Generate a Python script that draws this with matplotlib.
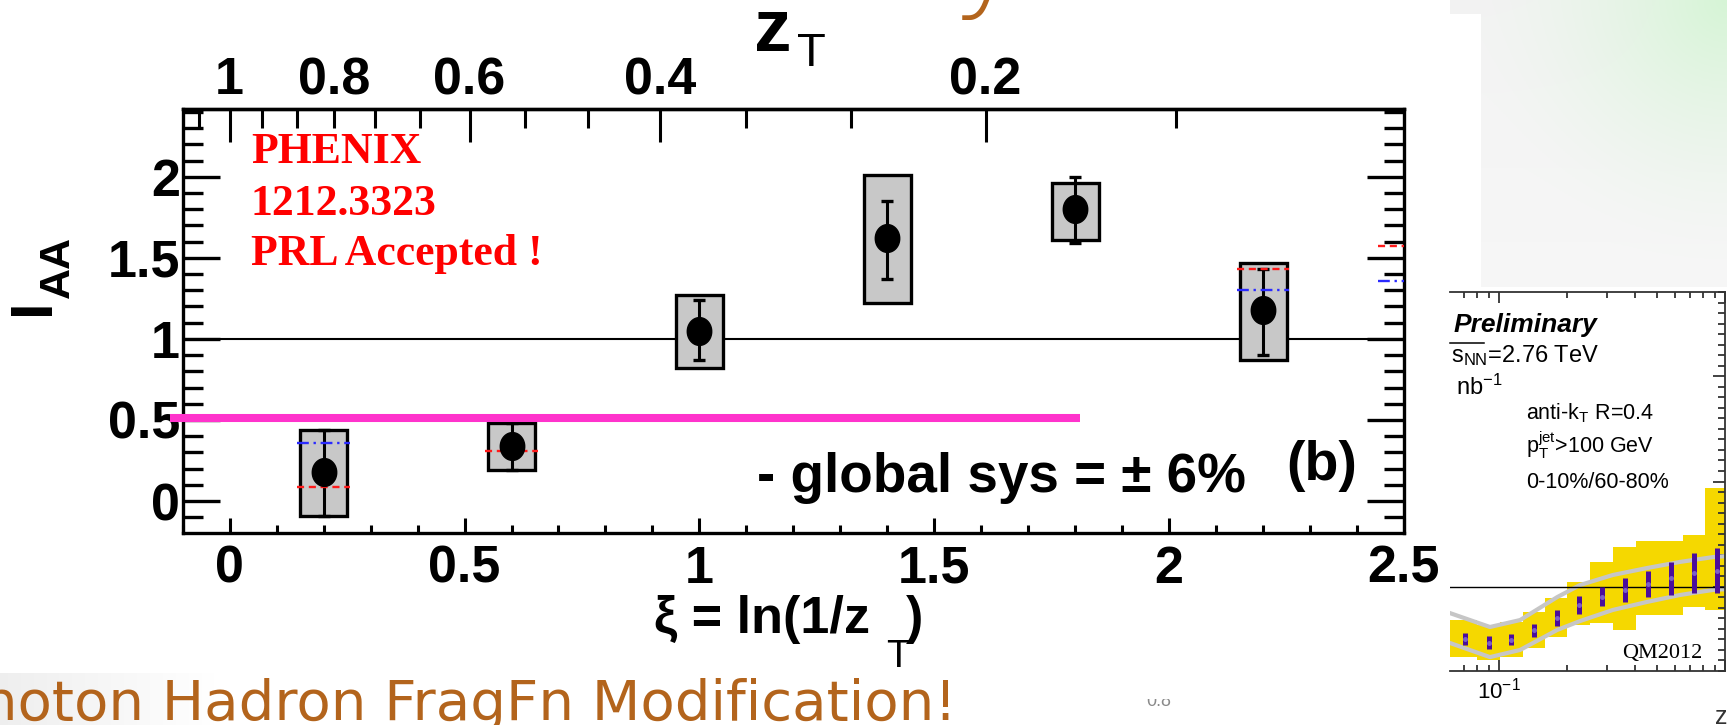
import numpy as np
import matplotlib
matplotlib.use("Agg")
import matplotlib.pyplot as plt
from matplotlib.ticker import MultipleLocator, FixedLocator, FuncFormatter, NullFormatter
from matplotlib.patches import Rectangle
from matplotlib.lines import Line2D
from matplotlib.transforms import Bbox, TransformedBbox

# ---------------- PHENIX gamma-hadron I_AA versus xi ----------------
xi = [0.2, 0.6, 1.0, 1.4, 1.8, 2.2]
iaa = [0.18, 0.34, 1.05, 1.62, 1.80, 1.18]
stat_lo = [0.27, 0.15, 0.18, 0.25, 0.21, 0.28]
stat_hi = [0.26, 0.14, 0.19, 0.23, 0.20, 0.25]
sys_lo = [0.27, 0.15, 0.23, 0.40, 0.19, 0.31]
sys_hi = [0.26, 0.14, 0.22, 0.39, 0.16, 0.29]

# model fragments visible around some bins
model_red_x = [0.2, 0.6, 2.2, 2.5]
model_red_y = [0.085, 0.31, 1.43, 1.57]
model_blue_x = [0.2, 2.2, 2.5]
model_blue_y = [0.36, 1.30, 1.36]

# hand-drawn reference level
ref_level = 0.514
ref_span = [-0.128, 1.811]

# top axis: z_T = exp(-xi)
zt_major = [1.0, 0.6, 0.4, 0.2]
zt_labeled_minor = 0.8
zt_minor = [k / 15 for k in range(1, 17) if k % 3]

# ---------------- ATLAS preliminary R_D(z) panel ----------------
atlas_edges = [0.061, 0.080, 0.101, 0.128, 0.160, 0.200, 0.253, 0.319, 0.404, 0.515, 0.652, 0.816, 1.02]
band_hi = [0.842, 0.818, 0.833, 0.880, 0.947, 1.023, 1.118, 1.189, 1.217, 1.217, 1.246, 1.469]
band_lo = [0.666, 0.652, 0.666, 0.709, 0.761, 0.818, 0.828, 0.795, 0.866, 0.866, 0.904, 0.890]
bar_z = [0.071, 0.090, 0.113, 0.143, 0.180, 0.226, 0.286, 0.362, 0.458, 0.578, 0.731, 0.923]
bar_lo = [0.723, 0.704, 0.723, 0.763, 0.815, 0.869, 0.909, 0.929, 0.950, 0.961, 0.969, 0.969]
bar_hi = [0.782, 0.766, 0.774, 0.823, 0.890, 0.956, 0.997, 1.040, 1.075, 1.119, 1.159, 1.185]
curve_z = [0.0607, 0.0912, 0.124, 0.181, 0.228, 0.319, 0.452, 0.632, 0.885, 1.02]
curve_hi = [0.875, 0.809, 0.842, 0.951, 1.008, 1.056, 1.089, 1.118, 1.141, 1.146]
curve_lo = [0.733, 0.666, 0.700, 0.795, 0.837, 0.890, 0.928, 0.961, 0.985, 0.989]

W, H, DPI = 1727, 725, 100
BROWN = "#b3641c"

plt.rcParams["font.family"] = ["Liberation Sans", "DejaVu Sans"]
plt.rcParams["font.weight"] = "bold"
plt.rcParams["mathtext.default"] = "regular"

fig = plt.figure(figsize=(W / DPI, H / DPI), dpi=DPI, facecolor="white")


def fx(px):
    return px / W


def fy(py):
    return 1 - py / H


def pt(px):
    return px * 72.0 / DPI


# ---------------- slide decorations ----------------
# light backdrop behind the bottom caption
bg_cap = fig.add_axes([0, fy(725), fx(215), (725 - 673) / H], zorder=-5)
grad = np.linspace(0.935, 1.0, 200)
bg_cap.imshow(np.dstack([np.tile(grad, (10, 1))] * 3), aspect="auto", extent=(0, 1, 0, 1))
bg_cap.set_axis_off()

# pale green-grey panel, top right
bg_tr = fig.add_axes([fx(1450), fy(287), fx(277), 287 / H], zorder=-5)
u, v = np.meshgrid(np.linspace(0, 1, 120), np.linspace(0, 1, 120))
d = np.sqrt((1 - u) ** 2 + v ** 2)
g = np.clip(1 - d / 0.95, 0, 1) ** 1.6
base = 0.952 + 0.015 * v
img = np.dstack([base * (1 - g) + 0.84 * g, base * (1 - g) + 0.96 * g, base * (1 - g) + 0.84 * g])
bg_tr.imshow(img, aspect="auto", extent=(0, 1, 0, 1))
bg_tr.set_axis_off()
fig.patches.append(Rectangle((fx(1450), fy(287)), fx(31), (287 - 14) / H,
                             transform=fig.transFigure, fc="white", ec="none", zorder=-4))

# ---------------- main PHENIX axes ----------------
L, R, T, B = 182.7, 1404, 109.3, 533
ax = fig.add_axes([fx(L), fy(B), (R - L) / W, (B - T) / H])
ax.set_xlim(-0.1, 2.5)
ax.set_ylim(-0.197, 2.416)

for s in ax.spines.values():
    s.set_linewidth(2.4)

ax.xaxis.set_major_locator(MultipleLocator(0.5))
ax.xaxis.set_minor_locator(MultipleLocator(0.1))
ax.yaxis.set_major_locator(MultipleLocator(0.5))
ax.yaxis.set_minor_locator(MultipleLocator(0.1))
fmt = FuncFormatter(lambda v, p: "%g" % round(v, 3))
ax.xaxis.set_major_formatter(fmt)
ax.yaxis.set_major_formatter(fmt)

ax.tick_params(axis="x", which="major", direction="in", length=pt(15), width=2.2,
               top=False, bottom=True, labelsize=37.5, pad=8.6)
ax.tick_params(axis="x", which="minor", direction="in", length=pt(8), width=2.2,
               top=False, bottom=True)
ax.tick_params(axis="y", which="major", direction="in", length=pt(37), width=2.4,
               left=True, right=True, labelsize=37.5, pad=2)
ax.tick_params(axis="y", which="minor", direction="in", length=pt(20), width=2.4,
               left=True, right=True)

ax.axhline(1.0, color="black", lw=1.5, zorder=1)

# systematic boxes
for x, y, lo, hi in zip(xi, iaa, sys_lo, sys_hi):
    ax.add_patch(Rectangle((x - 0.05, y - lo), 0.1, lo + hi, fc="#c8c8c8",
                           ec="black", lw=2.4, zorder=2))

# model fragments
for x, y in zip(model_red_x, model_red_y):
    ax.plot([x - 0.056, x + 0.056], [y, y], color="#ff1a1a", lw=1.7,
            ls=(0, (3, 2)), zorder=3.5)
for x, y in zip(model_blue_x, model_blue_y):
    ax.plot([x - 0.056, x + 0.056], [y, y], color="#2a2aff", lw=1.7,
            ls=(0, (5, 2, 1, 2)), zorder=3.5)

# statistical errors and points
ax.errorbar(xi, iaa, yerr=[stat_lo, stat_hi], fmt="none", ecolor="black",
            elinewidth=2.2, capsize=4.3, capthick=2.4, zorder=3)
t = np.linspace(0, 2 * np.pi, 64)
ellipse = list(zip(0.44 * np.cos(t), 0.5 * np.sin(t)))
ax.plot(xi, iaa, ls="none", marker=ellipse, ms=20, color="black", zorder=4)

# reference level
ax.plot(ref_span, [ref_level, ref_level], color="#ff33cc", lw=5.8,
        solid_capstyle="butt", clip_on=False, zorder=6)

# top z_T axis
sec = ax.secondary_xaxis("top", functions=(lambda x: np.exp(-np.asarray(x)),
                                            lambda z: -np.log(np.clip(np.asarray(z), 1e-9, None))))
sec.xaxis.set_major_locator(FixedLocator(zt_major))
sec.xaxis.set_minor_locator(FixedLocator([zt_labeled_minor] + zt_minor))
sec.xaxis.set_major_formatter(FuncFormatter(lambda v, p: "%g" % round(v, 3)))
sec.xaxis.set_minor_formatter(FuncFormatter(
    lambda v, p: "%g" % zt_labeled_minor if abs(v - zt_labeled_minor) < 1e-6 else ""))
sec.tick_params(axis="x", which="major", direction="in", length=pt(33), width=2.2,
                labelsize=37.5, pad=3)
sec.tick_params(axis="x", which="minor", direction="in", length=pt(19), width=2.2,
                labelsize=37.5, pad=3)
for s in sec.spines.values():
    s.set_linewidth(2.4)

# axis titles
fig.text(fx(773), fy(51), "z", ha="center", va="baseline", fontsize=54, weight="bold")
fig.text(fx(811), fy(54), "T", ha="center", va="center", fontsize=34, weight="normal")

fig.text(fx(870), fy(633), "\u03be = ln(1/z", ha="right", va="baseline", fontsize=37.5)
fig.text(fx(886), fy(667), "T", ha="left", va="baseline", fontsize=28, weight="normal")
fig.text(fx(906), fy(619), ")", ha="left", va="center", fontsize=37.5)

fig.text(fx(33.5), fy(307), "I", ha="center", va="center", rotation=90, fontsize=43)
fig.text(fx(57.5), fy(266.5), "AA", ha="center", va="center", rotation=90, fontsize=31)

# annotations inside the frame
for txt, base in zip(["PHENIX", "1212.3323", "PRL Accepted !"], [163.3, 215, 265]):
    fig.text(fx(251), fy(base), txt, ha="left", va="baseline", color="red",
             fontsize=31.5, family=["Liberation Serif", "DejaVu Serif"], weight="bold")

fig.text(fx(757), fy(492), "- global sys = \u00b1 6%", ha="left", va="baseline",
         fontsize=39.5, zorder=7)
fig.text(fx(1286), fy(466), "(b)", ha="left", va="center", fontsize=40)

# ---------------- ATLAS preliminary panel (right) ----------------
ax2 = fig.add_axes([fx(1450), fy(671), fx(1725 - 1450), (671 - 292) / H])
ax2.set_xscale("log")
ax2.set_xlim(0.0607, 1.0)
ax2.set_ylim(0.6, 2.4)
ax2.set_facecolor("none")
ax2.spines["left"].set_visible(False)
for k in ("top", "bottom", "right"):
    ax2.spines[k].set_color("#333333")
    ax2.spines[k].set_linewidth(1.3)

ax2.stairs(band_hi, atlas_edges, baseline=band_lo, fill=True, color="#f5d800",
           lw=0, zorder=1)
ax2.plot(curve_z, curve_hi, color="#c6c6c6", lw=3, zorder=2)
ax2.plot(curve_z, curve_lo, color="#c6c6c6", lw=3, zorder=2)
ax2.axhline(1.0, color="black", lw=1.0, zorder=2.5)
ax2.vlines(bar_z, bar_lo, bar_hi, color="#4a0d9c", lw=3.6, zorder=3)
ax2.plot(bar_z, [(a + b) / 2 for a, b in zip(bar_lo, bar_hi)], ls="none",
         marker="o", ms=2.5, color="#7d60c8", zorder=4)

ax2.xaxis.set_major_locator(FixedLocator([0.1, 1.0]))
ax2.xaxis.set_major_formatter(FuncFormatter(
    lambda v, p: r"10$^{\mathregular{-1}}$" if abs(v - 0.1) < 1e-9 else ""))
ax2.xaxis.set_minor_formatter(NullFormatter())
ax2.tick_params(axis="x", which="major", direction="in", length=pt(11), width=1.3,
                top=True, bottom=True, color="#333333", labelsize=16, pad=5)
ax2.tick_params(axis="x", which="minor", direction="in", length=pt(6), width=1.3,
                top=True, bottom=True, color="#333333")
for lbl in ax2.get_xticklabels():
    lbl.set_fontweight("normal")
ax2.yaxis.set_major_locator(MultipleLocator(0.5))
ax2.yaxis.set_minor_locator(MultipleLocator(0.05))
ax2.tick_params(axis="y", which="major", direction="in", length=pt(12), width=1.3,
                left=False, right=True, labelleft=False, labelright=False, color="#333333")
ax2.tick_params(axis="y", which="minor", direction="in", length=pt(7), width=1.3,
                left=False, right=True, color="#333333")

fig.text(fx(1454), fy(325), "Preliminary", ha="left", va="center", fontsize=19,
         weight="bold", style="italic")
fig.text(fx(1451), fy(362), r"$\mathregular{s_{NN}}$=2.76 TeV", ha="left",
         va="baseline", fontsize=17, weight="normal")
fig.lines.append(Line2D([fx(1450), fx(1484)], [fy(343), fy(343)], lw=1.1,
                        color="black", transform=fig.transFigure))
fig.text(fx(1456), fy(395), r"nb$^{\mathregular{-1}}$", ha="left", va="baseline",
         fontsize=17, weight="normal")
fig.text(fx(1526), fy(419), r"anti-k$_{\mathregular{T}}$ R=0.4", ha="left",
         va="baseline", fontsize=15.5, weight="normal")
fig.text(fx(1526), fy(453), r"p$_{\mathregular{T}}^{\mathregular{jet}}$>100 GeV",
         ha="left", va="baseline", fontsize=15.5, weight="normal")
fig.text(fx(1526), fy(488), "0-10%/60-80%", ha="left", va="baseline",
         fontsize=15.5, weight="normal")
fig.text(fx(1622), fy(658), "QM2012", ha="left", va="baseline", fontsize=16,
         weight="normal", family=["Liberation Serif", "DejaVu Serif"])
fig.text(fx(1715), fy(717), "z", ha="left", va="center", fontsize=18,
         weight="normal", color="#333333")

# ---------------- slide text ----------------
fig.text(fx(-52), fy(720), "Photon Hadron FragFn Modification!", ha="left",
         va="baseline", fontsize=40.5, weight="normal", color=BROWN,
         family=["DejaVu Sans"])
fig.text(fx(987), fy(-2), "y", ha="center", va="baseline", fontsize=84,
         weight="light", color=BROWN, family=["DejaVu Sans"])

peek = fig.text(fx(1159), fy(706), "0.8", ha="center", va="baseline", fontsize=13,
                weight="normal", color="#8a8a8a")
peek.set_clip_box(TransformedBbox(Bbox([[fx(1135), 0], [fx(1185), fy(699)]]),
                                  fig.transFigure))
peek.set_clip_on(True)

fig.savefig("out.png", dpi=DPI, facecolor="white")
